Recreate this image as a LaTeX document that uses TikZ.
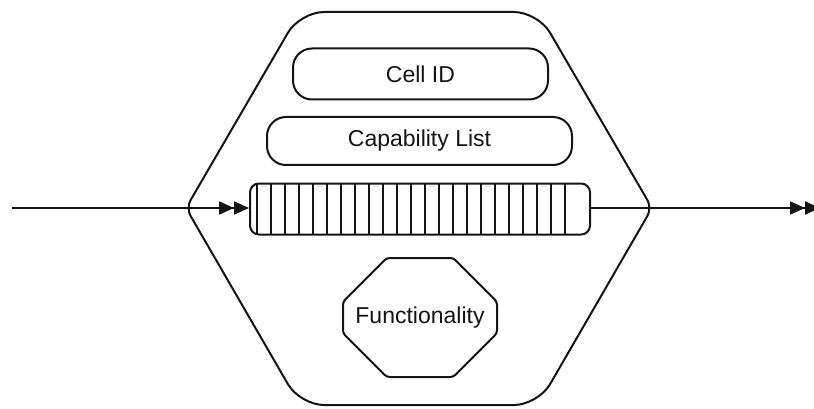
\documentclass[tikz,border=0pt]{standalone}
\usepackage{fontspec}
\setmainfont{Liberation Sans}
\usetikzlibrary{arrows.meta,shapes.misc}
\definecolor{ink}{RGB}{20,20,20}
\tikzset{
  outline/.style={draw=ink, line width=2pt},
  pill/.style={outline, rounded corners=19pt, inner sep=0pt,
    font=\fontsize{23}{27}\selectfont, text=ink},
  queuebox/.style={outline, rounded corners=9pt, inner sep=0pt},
  stripe/.style={draw=ink, line width=1.4pt},
  flow/.style={draw=ink, line width=2pt,
    -{Triangle[length=15pt,width=13pt,sep=0pt]Triangle[length=15pt,width=13pt]}},
  funcbox/.style={outline, chamfered rectangle, rounded corners=3pt,
    chamfered rectangle xsep=47pt, chamfered rectangle ysep=33pt,
    inner sep=0pt, font=\fontsize{23}{27}\selectfont, text=ink}
}
\begin{document}
\begin{tikzpicture}[x=1pt,y=-1pt]
  \useasboundingbox (0,0) rectangle (814,409);

  % cell outline: wide rounding at the top and bottom, tighter at the sides
  \draw[outline]
    (419,12) [rounded corners=24pt] -- (538,12)
    [rounded corners=9pt] -- (652,208)
    [rounded corners=24pt] -- (538,405) -- (300,405)
    [rounded corners=9pt] -- (186,208)
    [rounded corners=24pt] -- (300,12) -- cycle;

  % cell contents
  \node[pill, minimum width=255pt, minimum height=51pt] (cellid) at (420.5,74) {Cell ID};
  \node[pill, minimum width=305pt, minimum height=48pt] (caplist) at (419.5,141) {Capability List};
  \node[queuebox, minimum width=340pt, minimum height=51pt] (queue) at (420,209) {};
  \foreach \k in {0,...,22} {
    \draw[stripe] (257+14*\k,183.5) -- (257+14*\k,234.5);
  }
  \node[funcbox, minimum width=154pt, minimum height=119pt] (func) at (420,317.5) {Functionality};

  % input and output flow
  \coordinate (src) at (12,208);
  \coordinate (dst) at (820,208);
  \draw[flow] (src) -- (src -| queue.west);
  \draw[flow] (queue.east |- dst) -- (dst);
\end{tikzpicture}
\end{document}
